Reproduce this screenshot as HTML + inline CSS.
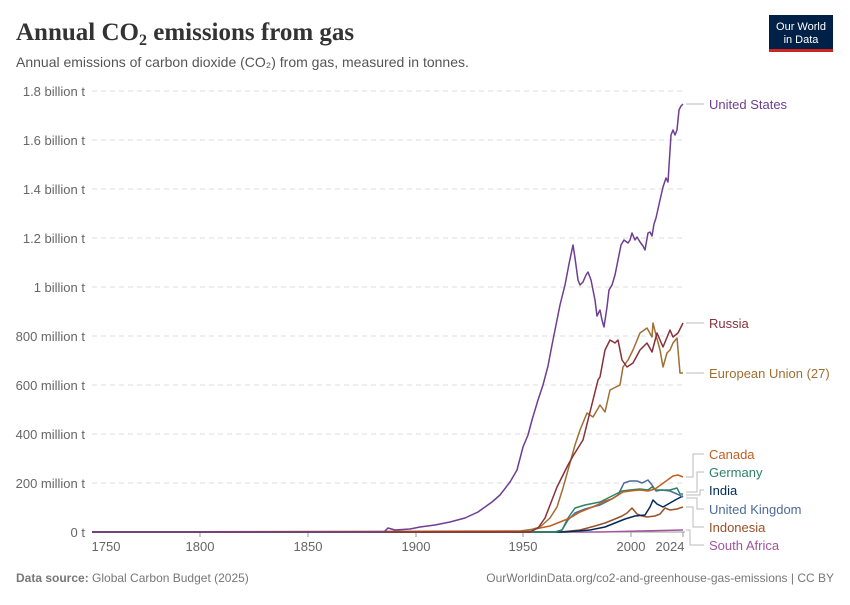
<!DOCTYPE html>
<html><head><meta charset="utf-8"><style>
body{margin:0;background:#fff;font-family:"Liberation Sans",sans-serif;}
svg text{font-family:"Liberation Sans",sans-serif;}
</style></head><body>
<svg width="850" height="600" xmlns="http://www.w3.org/2000/svg">
<text x="16" y="40" font-size="25" fill="#333" font-weight="bold" style="font-family:'Liberation Serif',serif">Annual CO<tspan font-size="16" dy="5">2</tspan><tspan dy="-5"> emissions from gas</tspan></text>
<text x="16" y="67" font-size="14" fill="#555">Annual emissions of carbon dioxide (CO₂) from gas, measured in tonnes.</text>
<rect x="769" y="15" width="64" height="35" fill="#002147"/>
<rect x="769" y="49" width="64" height="3" fill="#ce261e"/>
<text x="801" y="30" font-size="11" fill="#fff" text-anchor="middle">Our World</text>
<text x="801" y="43" font-size="11" fill="#fff" text-anchor="middle">in Data</text>
<g stroke="#ddd" stroke-dasharray="5,4">
<line x1="92" x2="685" y1="91" y2="91"/><line x1="92" x2="685" y1="140" y2="140"/><line x1="92" x2="685" y1="189" y2="189"/><line x1="92" x2="685" y1="238" y2="238"/><line x1="92" x2="685" y1="287" y2="287"/><line x1="92" x2="685" y1="336" y2="336"/><line x1="92" x2="685" y1="385" y2="385"/><line x1="92" x2="685" y1="434" y2="434"/><line x1="92" x2="685" y1="483" y2="483"/>
</g>
<line x1="92" x2="685" y1="532" y2="532" stroke="#999"/>
<g font-size="13" fill="#666" text-anchor="end">
<text x="85" y="96">1.8 billion t</text><text x="85" y="145">1.6 billion t</text><text x="85" y="194">1.4 billion t</text><text x="85" y="243">1.2 billion t</text><text x="85" y="292">1 billion t</text><text x="85" y="341">800 million t</text><text x="85" y="390">600 million t</text><text x="85" y="439">400 million t</text><text x="85" y="488">200 million t</text><text x="85" y="537">0 t</text>
</g>
<g font-size="13" fill="#666" text-anchor="middle">
<text x="106" y="551">1750</text><text x="200" y="551">1800</text><text x="308" y="551">1850</text><text x="416" y="551">1900</text><text x="523" y="551">1950</text><text x="631" y="551">2000</text><text x="670" y="551">2024</text>
</g>
<g stroke="#999"><line x1="200" x2="200" y1="532" y2="537"/><line x1="308" x2="308" y1="532" y2="537"/><line x1="416" x2="416" y1="532" y2="537"/><line x1="523" x2="523" y1="532" y2="537"/><line x1="631" x2="631" y1="532" y2="537"/><line x1="683" x2="683" y1="532" y2="537"/></g>
<g fill="none" stroke-width="1.5" stroke-linejoin="round">
<polyline stroke="#a2559c" points="92,532 600,532 640,531 683,530"/>
<polyline stroke="#9a5129" points="92,532 560,532 580,530 595,526 605,523 615,519 622,516 627,513 632,508 637,514 642,516 647,517 655,516 660,514 665,508 670,510 677,509 683,507"/>
<polyline stroke="#00295b" points="92,532 565,532 590,530 605,527 615,523 625,519 635,516 645,515 650,507 653,500 657,504 663,507 670,503 677,499 683,496"/>
<polyline stroke="#4c6a9c" points="92,532 555,532 562,530 568,520 575,513 585,509 600,505 610,500 618,495 624,483 630,481 637,481 642,483 648,480 652,485 656,491 662,490 670,491 677,494 683,497"/>
<polyline stroke="#2c8465" points="92,532 555,532 562,530 568,518 575,508 585,505 600,502 612,496 622,491 630,490 640,489 648,490 652,487 656,490 662,490 670,490 677,488 680,494 683,494"/>
<polyline stroke="#c15f1f" points="92,532 520,531 535,529 550,526 560,522 570,518 580,512 595,506 605,501 612,499 623,492 630,491 640,490 648,491 655,489 662,484 673,476 678,475 683,477"/>
<polyline stroke="#a06e32" points="92,532 515,532 530,530 540,527 550,518 557,507 563,488 570,463 575,445 580,430 587,413 593,417 600,405 605,412 610,390 616,387 620,385 623,367 628,360 633,350 640,333 647,328 652,337 653,323 656,335 660,350 663,367 667,353 670,350 673,343 677,338 680,373 683,373"/>
<polyline stroke="#883039" points="92,532 530,532 538,528 545,518 552,500 557,487 563,475 568,465 573,456 578,448 583,440 588,420 593,400 598,380 600,377 605,350 610,340 615,343 618,340 622,360 627,367 633,363 640,350 647,343 652,352 657,333 663,347 670,330 673,337 678,333 683,323"/>
<polyline stroke="#6d3e91" points="92,532 384,532 388,528 395,530 410,529 420,527 435,525 450,522 465,518 478,512 485,507 492,502 500,495 510,482 517,470 523,447 528,435 532,420 538,400 543,385 548,366 552,345 556,325 560,305 565,285 569,264 573,245 575,258 578,280 580,285 583,282 586,275 588,272 591,280 595,300 597,316 600,310 602,320 604,327 607,307 609,290 612,285 615,275 618,260 621,245 624,240 628,243 630,240 632,233 635,240 637,237 640,242 643,246 645,250 648,233 650,232 652,236 654,224 656,218 660,200 663,187 666,178 668,182 671,135 673,130 675,135 677,130 679,110 681,106 683,104"/>
</g>
<g stroke="#bbb" fill="none">
<polyline points="686,104 704,104"/>
<polyline points="686,323 704,323"/>
<polyline points="686,373 704,373"/>
<polyline points="686,477 693,477 693,454 704,454"/>
<polyline points="686,492 697,492 697,472 704,472"/>
<polyline points="686,495 700,495 700,490 704,490"/>
<polyline points="686,498 697,498 697,509 704,509"/>
<polyline points="686,507 693,507 693,527 704,527"/>
<polyline points="686,530 690,530 690,545 704,545"/>
</g>
<g font-size="13">
<text x="709" y="109" fill="#6d3e91">United States</text>
<text x="709" y="328" fill="#883039">Russia</text>
<text x="709" y="378" fill="#a06e32">European Union (27)</text>
<text x="709" y="459" fill="#c15f1f">Canada</text>
<text x="709" y="477" fill="#2c8465">Germany</text>
<text x="709" y="495" fill="#00295b">India</text>
<text x="709" y="514" fill="#4c6a9c">United Kingdom</text>
<text x="709" y="532" fill="#9a5129">Indonesia</text>
<text x="709" y="550" fill="#a2559c">South Africa</text>
</g>
<text x="16" y="582" font-size="12" fill="#777"><tspan font-weight="bold">Data source:</tspan> Global Carbon Budget (2025)</text>
<text x="834" y="582" font-size="12" fill="#777" text-anchor="end">OurWorldinData.org/co2-and-greenhouse-gas-emissions | CC BY</text>
</svg>
</body></html>
